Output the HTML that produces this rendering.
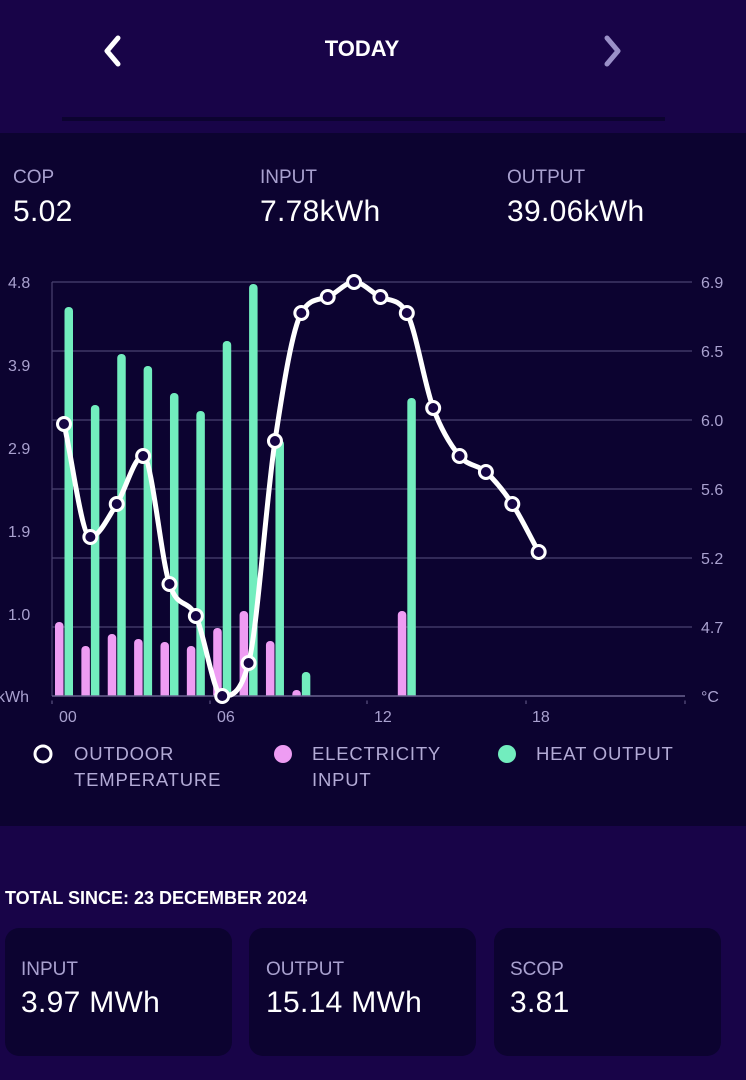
<!DOCTYPE html>
<html><head><meta charset="utf-8"><style>
html,body{margin:0;padding:0;}
body{width:746px;height:1080px;background:#180448;font-family:"Liberation Sans",sans-serif;position:relative;overflow:hidden;color:#fff;}
.abs{position:absolute;}
.panel{position:absolute;left:0;top:133px;width:746px;height:693px;background:#0c0330;}
.lbl{position:absolute;font-size:19px;color:#a9a1cf;}
.val{position:absolute;font-size:30px;color:#fff;letter-spacing:0.3px;}
.card{position:absolute;top:928px;width:227px;height:128px;background:#0c0330;border-radius:14px;}
.leg{position:absolute;font-size:18.5px;color:#b3abd6;letter-spacing:0.8px;line-height:26px;}
</style></head><body>
<div class="abs" style="left:0;top:36px;width:724px;text-align:center;font-size:22px;font-weight:bold;">TODAY</div>
<svg class="abs" style="left:0;top:0" width="746" height="133">
<polyline points="118,38 107,51 118,64" fill="none" stroke="#fff" stroke-width="5" stroke-linecap="round" stroke-linejoin="round"/>
<polyline points="607,38 618,51 607,64" fill="none" stroke="#9a90c8" stroke-width="5" stroke-linecap="round" stroke-linejoin="round"/>
<rect x="62" y="117" width="603" height="4" fill="#0c0330"/>
</svg>
<div class="panel"></div>
<div class="lbl" style="left:13px;top:167px">COP</div>
<div class="lbl" style="left:260px;top:167px">INPUT</div>
<div class="lbl" style="left:507px;top:167px">OUTPUT</div>
<div class="val" style="left:13px;top:195px">5.02</div>
<div class="val" style="left:260px;top:195px">7.78kWh</div>
<div class="val" style="left:507px;top:195px">39.06kWh</div>
<svg id="ch" class="abs" style="left:0;top:0" width="746" height="830">
<g stroke="#4a4170" stroke-width="1.2">
<line x1="52" x2="692" y1="282" y2="282"/><line x1="52" x2="692" y1="351" y2="351"/>
<line x1="52" x2="692" y1="420" y2="420"/><line x1="52" x2="692" y1="489" y2="489"/>
<line x1="52" x2="692" y1="558" y2="558"/><line x1="52" x2="692" y1="627" y2="627"/>
</g>
<line x1="52" x2="52" y1="282" y2="696" stroke="#4a4170" stroke-width="1.2"/>
<g stroke="#6a6290" stroke-width="1"><line x1="52" x2="52" y1="700" y2="704"/><line x1="210" x2="210" y1="700" y2="704"/><line x1="367" x2="367" y1="700" y2="704"/><line x1="526" x2="526" y1="700" y2="704"/><line x1="685" x2="685" y1="700" y2="704"/></g>
<g id="bars"></g>
<g fill="#a9a1cf" font-size="16" font-family="Liberation Sans, sans-serif">
<text x="8" y="288">4.8</text><text x="8" y="371">3.9</text><text x="8" y="454">2.9</text><text x="8" y="537">1.9</text><text x="8" y="620">1.0</text><text x="-3" y="702">kWh</text>
<text x="701" y="288">6.9</text><text x="701" y="357">6.5</text><text x="701" y="426">6.0</text><text x="701" y="495">5.6</text><text x="701" y="564">5.2</text><text x="701" y="633">4.7</text><text x="701" y="702">°C</text>
<text x="59" y="722">00</text><text x="217" y="722">06</text><text x="374" y="722">12</text><text x="532" y="722">18</text>
</g>
<path id="tl" fill="none" stroke="#fff" stroke-width="5" stroke-linejoin="round"/>
<g id="dots"></g>
</svg>
<svg class="abs" style="left:0;top:740px" width="746" height="30">
<circle cx="43" cy="14" r="8" fill="#0c0330" stroke="#fff" stroke-width="3"/>
<circle cx="283" cy="14" r="9" fill="#ee9cf3"/>
<circle cx="507" cy="14" r="9" fill="#72edbe"/>
</svg>
<div class="leg" style="left:74px;top:741px">OUTDOOR<br>TEMPERATURE</div>
<div class="leg" style="left:312px;top:741px">ELECTRICITY<br>INPUT</div>
<div class="leg" style="left:536px;top:741px">HEAT OUTPUT</div>
<div class="abs" style="left:5px;top:888px;font-size:18px;font-weight:bold;">TOTAL SINCE: 23 DECEMBER 2024</div>
<div class="card" style="left:5px"></div><div class="card" style="left:249px"></div><div class="card" style="left:494px"></div>
<div class="lbl" style="left:21px;top:959px">INPUT</div>
<div class="lbl" style="left:266px;top:959px">OUTPUT</div>
<div class="lbl" style="left:510px;top:959px">SCOP</div>
<div class="val" style="left:21px;top:986px">3.97 MWh</div>
<div class="val" style="left:266px;top:986px">15.14 MWh</div>
<div class="val" style="left:510px;top:986px">3.81</div>
<script>
var NS="http://www.w3.org/2000/svg";
function cx(h){return 64+26.37*h;}
var green={0:307,1:405,2:354,3:366,4:393,5:411,6:341,7:284,8:440,9:672,13:398};
var pink={0:622,1:646,2:634,3:639,4:642,5:646,6:628,7:611,8:641,9:690,13:611};
var bars=document.getElementById('bars');
function bar(x,top,c){var r=document.createElementNS(NS,'rect');r.setAttribute('x',x);r.setAttribute('y',top);r.setAttribute('width',8.5);r.setAttribute('height',696-top+4);r.setAttribute('rx',4);r.setAttribute('fill',c);bars.appendChild(r);}
for(var h in pink){bar(cx(+h)-9,pink[h],'#ee9cf3');}
for(var h in green){bar(cx(+h)+0.5,green[h],'#72edbe');}
var cl=document.createElementNS(NS,'rect');cl.setAttribute('x',40);cl.setAttribute('y',696.5);cl.setAttribute('width',650);cl.setAttribute('height',4);cl.setAttribute('fill','#0c0330');bars.appendChild(cl);
var ln=document.createElementNS(NS,'line');ln.setAttribute('x1',52);ln.setAttribute('x2',685);ln.setAttribute('y1',696);ln.setAttribute('y2',696);ln.setAttribute('stroke','#6a6290');ln.setAttribute('stroke-width',1.5);bars.appendChild(ln);
var ty=[424,537,504,456,584,616,696,663,441,313,297,282,297,313,408,456,472,504,552];
var p=ty.map(function(y,i){return [cx(i),y];});
// monotone cubic (Fritsch-Carlson)
var n=p.length,dx=26.37,s=[],m=[];
for(var i=0;i<n-1;i++)s.push((p[i+1][1]-p[i][1])/dx);
m[0]=s[0];m[n-1]=s[n-2];
for(var i=1;i<n-1;i++){m[i]=(s[i-1]*s[i]<=0)?0:(s[i-1]+s[i])/2;}
for(var i=0;i<n-1;i++){if(s[i]==0){m[i]=m[i+1]=0;continue;}var a=m[i]/s[i],b=m[i+1]/s[i],t=a*a+b*b;if(t>9){var k=3/Math.sqrt(t);m[i]=k*a*s[i];m[i+1]=k*b*s[i];}}
var d="M"+p[0][0]+","+p[0][1];
for(var i=0;i<n-1;i++){var h3=dx/3;d+=" C"+(p[i][0]+h3)+","+(p[i][1]+m[i]*h3)+" "+(p[i+1][0]-h3)+","+(p[i+1][1]-m[i+1]*h3)+" "+p[i+1][0]+","+p[i+1][1];}
document.getElementById('tl').setAttribute('d',d);
var dots=document.getElementById('dots');
p.forEach(function(q){var c=document.createElementNS(NS,'circle');c.setAttribute('cx',q[0]);c.setAttribute('cy',q[1]);c.setAttribute('r',6.5);c.setAttribute('fill','#160544');c.setAttribute('stroke','#fff');c.setAttribute('stroke-width',3);dots.appendChild(c);});
</script>
</body></html>
